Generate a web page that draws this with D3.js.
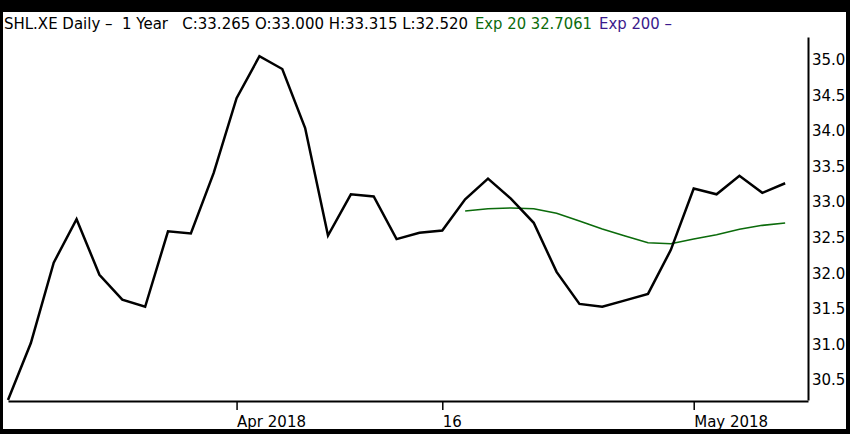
<html>
  <head>
    <script src="https://d3js.org/d3.v7.min.js"></script>
    <style>
      body { margin: 0; background: #000; }
      svg { font-family: "DejaVu Sans", sans-serif; display: block; }
      .price { fill: none; stroke: #000; stroke-width: 2.5; }
      .ema { fill: none; stroke: #0b6b0b; stroke-width: 1.6; }
      .axis path { stroke: #000; stroke-width: 2; }
      .axis line { stroke: #000; stroke-width: 1.5; }
      .axis text { font-family: "DejaVu Sans", sans-serif; font-size: 15px; fill: #000; }
      .head { font-size: 15px; white-space: pre; }
    </style>
  </head>
  <body>
    <div id="chart"></div>
    <script>
var dates = ["2018-03-16","2018-03-19","2018-03-20","2018-03-21","2018-03-22","2018-03-23",
  "2018-03-26","2018-03-27","2018-03-28","2018-03-29","2018-04-03","2018-04-04","2018-04-05",
  "2018-04-06","2018-04-09","2018-04-10","2018-04-11","2018-04-12","2018-04-13","2018-04-16",
  "2018-04-17","2018-04-18","2018-04-19","2018-04-20","2018-04-23","2018-04-24","2018-04-25",
  "2018-04-26","2018-04-27","2018-04-30","2018-05-02","2018-05-03","2018-05-04","2018-05-07",
  "2018-05-08"];

var closes = [30.22, 31.02, 32.15, 32.76, 31.98, 31.63, 31.53, 32.59, 32.56, 33.41,
  34.46, 35.05, 34.87, 34.04, 32.53, 33.11, 33.08, 32.48, 32.57, 32.60,
  33.04, 33.33, 33.05, 32.71, 32.02, 31.57, 31.53, 31.62, 31.71, 32.33,
  33.19, 33.11, 33.37, 33.13, 33.265];

// Exp 20 only shown from Apr 17
var ema20 = [null, null, null, null, null, null, null, null, null, null,
  null, null, null, null, null, null, null, null, null, null,
  32.875, 32.908, 32.918, 32.908, 32.843, 32.735, 32.623, 32.524, 32.430, 32.416,
  32.482, 32.542, 32.618, 32.674, 32.706];

var tickDates = ["2018-04-03", "2018-04-16", "2018-05-02"];
var tickLabels = ["Apr 2018", "16", "May 2018"];
var yTicks = [30.5, 31.0, 31.5, 32.0, 32.5, 33.0, 33.5, 34.0, 34.5, 35.0];

var headParts = [
  {text: "SHL.XE Daily \u2013  1 Year   C:33.265 O:33.000 H:33.315 L:32.520", color: "#000", x: 4, w: 464},
  {text: "Exp 20 32.7061", color: "#0b6b0b", x: 475, w: 117},
  {text: "Exp 200 \u2013", color: "#3a1a8c", x: 599, w: 73}
];

var width = 850;
var height = 434;

var svg = d3.select("#chart").append("svg")
  .attr("width", width)
  .attr("height", height);

svg.append("rect")
  .attr("width", width).attr("height", height)
  .attr("fill", "#000");
svg.append("rect")
  .attr("x", 3).attr("y", 12)
  .attr("width", 843).attr("height", 417)
  .attr("fill", "#fff");

/* Scales */
var xScale = d3.scaleLinear()
  .domain([0, dates.length])
  .range([8, 808]);

var yScale = d3.scaleLinear()
  .domain([30.22, 35.32])
  .range([400, 37]);

/* Axes */
var xAxis = d3.axisBottom(xScale)
  .tickValues(tickDates.map(d => dates.indexOf(d)))
  .tickFormat((d, i) => tickLabels[i])
  .tickSizeInner(9)
  .tickSizeOuter(0)
  .tickPadding(6);

svg.append("g")
  .attr("class", "x axis")
  .attr("transform", "translate(0, 401)")
  .call(xAxis)
  .selectAll("text")
  .attr("text-anchor", "start");

var yAxis = d3.axisRight(yScale)
  .tickValues(yTicks)
  .tickFormat(d3.format(".1f"))
  .tickSize(0)
  .tickPadding(4);

svg.append("g")
  .attr("class", "y axis")
  .attr("transform", "translate(808, 0)")
  .call(yAxis);

/* Lines */
var line = d3.line()
  .defined(d => d != null)
  .x((d, i) => xScale(i))
  .y(d => yScale(d));

svg.append("path")
  .attr("class", "ema")
  .attr("d", line(ema20));

svg.append("path")
  .attr("class", "price")
  .attr("d", line(closes));

/* Header */
svg.selectAll(".head")
  .data(headParts).enter()
  .append("text")
  .attr("class", "head")
  .attr("x", d => d.x)
  .attr("y", 28.5)
  .attr("fill", d => d.color)
  .attr("textLength", d => d.w)
  .attr("lengthAdjust", "spacingAndGlyphs")
  .text(d => d.text);
    </script>
  </body>
</html>
